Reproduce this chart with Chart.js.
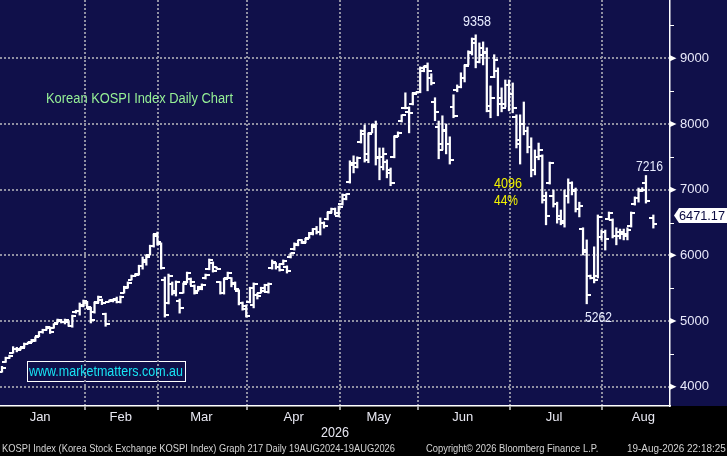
<!DOCTYPE html>
<html><head><meta charset="utf-8">
<script src="https://cdn.jsdelivr.net/npm/chart.js@4.4.1/dist/chart.umd.min.js"></script>
<style>
html,body{margin:0;padding:0;background:#000;}
#wrap{position:relative;width:727px;height:456px;overflow:hidden;background:#000;}
#bg{position:absolute;left:0;top:0;width:727px;height:406px;background:#10104a;}
#c{position:absolute;left:0;top:0;}
.t{position:absolute;white-space:nowrap;font-family:"Liberation Sans",Arial,sans-serif;transform-origin:0 50%;line-height:1;}
#webbox{position:absolute;left:27px;top:361px;width:157px;height:19px;border:1px solid #ffffff;}
#pbox{position:absolute;left:674px;top:208px;width:53px;height:15px;background:#ffffff;clip-path:polygon(0 50%,5px 0,100% 0,100% 100%,5px 100%);}
</style></head><body>
<div id="wrap">
<div id="bg"></div>
<div id="webbox"></div>
<div id="pbox"></div>
<canvas id="c" width="727" height="456"></canvas>
<div class="t" id="title" style="font-size:14px;color:#96f096;">Korean KOSPI Index Daily Chart</div>
<div class="t" id="web" style="font-size:14px;color:#18e4f4;">www.marketmatters.com.au</div>
<div class="t" id="a1" style="font-size:15px;color:#e8ecff;">9358</div>
<div class="t" id="a2" style="font-size:15px;color:#e8ecff;">7216</div>
<div class="t" id="a3" style="font-size:15px;color:#e8ecff;">5262</div>
<div class="t" id="a4" style="font-size:15px;color:#f2f200;">4096</div>
<div class="t" id="a5" style="font-size:15px;color:#f2f200;">44%</div>
<div class="t" id="yr" style="font-size:14px;color:#e6e6f0;">2026</div>
<div class="t" id="f1" style="font-size:11px;color:#d4d4d4;">KOSPI Index (Korea Stock Exchange KOSPI Index) Graph 217 Daily 19AUG2024-19AUG2026</div>
<div class="t" id="f2" style="font-size:11px;color:#d4d4d4;">Copyright© 2026 Bloomberg Finance L.P.</div>
<div class="t" id="f3" style="font-size:11px;color:#d4d4d4;">19-Aug-2026 22:18:25</div>
<div class="t" id="plab" style="font-size:13px;color:#0a0a40;">6471.17</div>
</div>
<script>
// ---- data (trading-day index = position in arrays) ----
const months = ["Jan","Feb","Mar","Apr","May","Jun","Jul","Aug"];
const monthStart = [22.3, 42.1, 66.3, 91.4, 112.3, 137.2, 162.1];
const monthLabelAt = [10.3, 32.1, 53.9, 78.8, 101.8, 124.5, 149.2, 173.3];
const yTicks = [4000, 5000, 6000, 7000, 8000, 9000];
const yMinor = [4500, 5500, 6500, 7500, 8500, 9500];

const opens = [4230,4380,4440,4520,4580,4570,4600,4655,4675,4700,4770,4830,4870,4890,4900,4975,5000,4980,4985,4920,5130,5150,5230,
5280,5190,5130,5290,5320,5100,5295,5300,5340,5285,5430,5510,5630,5690,5710,5840,5900,6010,6140,6320,
6180,5620,5280,5560,5420,5300,5430,5590,5640,5540,5460,5480,5650,5790,5890,5815,5590,5430,5660,5650,5580,5460,5280,5230,
5290,5250,5400,5430,5450,5440,5800,5880,5830,5870,5830,5970,6090,6150,6230,6200,6270,6330,6400,6360,6500,6550,6660,6700,6600,
6780,6860,7110,7380,7350,7720,7900,7450,7870,7960,7480,7350,7420,7300,7490,7810,8040,8240,8180,8300,8475,
8480,8800,8880,8700,8340,7960,7700,7900,7700,8260,8520,8560,8700,8900,9080,9290,8950,9150,9100,8200,8720,8800,8400,8300,8600,
8450,8100,7700,8000,7900,7650,7300,7500,7520,6850,7100,6900,6780,6600,6500,6900,7100,7000,6700,6400,6080,5690,5650,5680,6280,
6350,6560,6540,6300,6300,6320,6300,6440,6780,6880,6980,7100,null,6570];
const highs = [4310,4450,4480,4610,4600,4600,4665,4680,4720,4760,4840,4875,4920,4910,4960,5030,5020,5030,4990,5090,5165,5275,5320,
5300,5210,5290,5380,5335,5120,5320,5335,5365,5380,5530,5595,5700,5720,5850,5975,6000,6155,6325,6355,
6190,5670,5715,5595,5610,5335,5580,5745,5655,5550,5530,5565,5715,5945,5900,5820,5600,5655,5745,5660,5595,5475,5290,5245,
5515,5580,5425,5515,5560,5580,5930,5890,5870,5930,5840,6035,6190,6235,6240,6260,6350,6410,6440,6570,6510,6660,6720,6720,6750,
6935,6935,7440,7515,7500,7910,7985,7865,8000,8045,7635,7635,7455,7330,7820,7880,8140,8475,8260,8475,8490,
8870,8885,8930,8765,8400,8045,8125,8000,7805,8445,8595,8780,8900,9115,9310,9358,9235,9250,9160,8580,9055,8855,8550,8670,8670,
8625,8140,8140,8335,7955,7790,7605,7710,7530,6965,7420,6995,6810,6690,6995,7165,7120,7025,6810,6420,6235,5700,6130,6615,6385,
6385,6660,6555,6420,6400,6400,6420,6660,6890,7025,7030,7216,null,6615];
const lows = [4220,4370,4430,4510,4530,4560,4600,4650,4670,4690,4760,4815,4860,4810,4890,4970,4970,4955,4920,4905,5120,5090,5215,
5190,4970,5120,5275,5250,4920,5290,5290,5275,5275,5425,5500,5625,5680,5700,5790,5850,6005,6125,6155,
5790,5060,5260,5395,5380,5120,5425,5580,5550,5410,5455,5475,5640,5780,5745,5790,5410,5410,5655,5520,5475,5245,5165,5060,
5275,5200,5335,5425,5440,5425,5790,5790,5760,5855,5730,5960,6080,6145,6180,6190,6260,6310,6325,6310,6415,6540,6645,6615,6585,
6765,6845,7100,7255,7330,7710,7420,7410,7865,7375,7150,7300,7180,7060,7485,7805,8030,8230,7865,8290,8470,
8475,8795,8505,8595,8050,7470,7605,7545,7390,8095,8490,8550,8640,8900,9050,8855,8930,8900,8185,8095,8705,8125,8185,8260,8200,
8170,7635,7390,7835,7560,7195,7225,7455,6795,6465,7085,6735,6490,6465,6430,6795,6920,6660,6585,6005,5262,5640,5580,5655,6235,
6080,6540,6265,6160,6250,6235,6235,6430,6765,6810,6970,6795,null,6415];
const closes = [4290,4440,4470,4580,4560,4590,4650,4670,4710,4750,4830,4860,4910,4830,4950,5020,4985,5010,4930,5080,5160,5240,5300,
5210,5010,5270,5360,5270,4960,5315,5320,5290,5370,5520,5580,5690,5705,5840,5930,5980,6140,6300,6200,
5810,5090,5680,5450,5600,5200,5570,5730,5590,5430,5520,5555,5700,5930,5760,5795,5430,5640,5735,5560,5490,5280,5180,5070,
5500,5560,5380,5505,5550,5570,5900,5820,5780,5920,5760,6030,6180,6230,6190,6250,6340,6400,6350,6500,6440,6650,6700,6640,6740,
6920,6930,7400,7400,7480,7850,7550,7850,7980,7500,7500,7550,7250,7100,7800,7870,8130,8250,8170,8460,8480,
8850,8870,8800,8630,8190,7600,7910,7700,7450,8125,8570,8700,8880,9100,9230,8950,9050,9080,8280,8400,8980,8300,8250,8600,8450,
8250,7750,8000,7900,7650,7300,7500,7600,6900,6600,7400,6780,6560,6520,6900,7100,6980,6700,6750,6050,5400,5650,5620,6580,6350,
6250,6650,6300,6350,6350,6330,6380,6650,6880,6990,7000,6830,null,6471.17];

const xMin = -0.54, xMax = 180.5, yMin = 3706, yMax = 9888;

// ---- build datasets ----
const rangeData = [], openData = [], closeData = [];
highs.forEach((h, i) => {
  if (h === null) return;
  rangeData.push({x: i, y: [lows[i], highs[i]]});
  openData.push({x: i, y: opens[i]});
  closeData.push({x: i, y: closes[i]});
});
function tickImg(side) {
  const c = document.createElement('canvas'); c.width = 8; c.height = 2;
  const g = c.getContext('2d'); g.fillStyle = '#ffffff';
  if (side === 'L') g.fillRect(0, 0, 4, 2); else g.fillRect(4, 0, 4, 2);
  return c;
}
const gridCol = '#9090a2';
const fontFam = '"Liberation Sans", Arial, sans-serif';

const axisMarks = {
  id: 'axisMarks',
  afterDraw(chart) {
    const y = chart.scales.y, ctx = chart.ctx, x0 = y.left;
    ctx.save();
    ctx.fillStyle = '#ffffff'; ctx.strokeStyle = '#ffffff'; ctx.lineWidth = 1;
    yTicks.forEach(v => {
      const py = y.getPixelForValue(v);
      ctx.beginPath(); ctx.moveTo(x0, py - 3); ctx.lineTo(x0 + 6.5, py); ctx.lineTo(x0, py + 3); ctx.closePath(); ctx.fill();
    });
    yMinor.forEach(v => {
      const py = Math.round(y.getPixelForValue(v)) + 0.5;
      ctx.beginPath(); ctx.moveTo(x0, py); ctx.lineTo(x0 + 4, py); ctx.stroke();
    });
    ctx.restore();
  }
};

new Chart(document.getElementById('c'), {
  type: 'bar',
  data: {
    datasets: [
      {type: 'bar', data: rangeData, backgroundColor: '#ffffff', borderWidth: 0, barThickness: 1.6, order: 2},
      {type: 'scatter', data: openData, pointStyle: tickImg('L'), pointRadius: 2, order: 1},
      {type: 'scatter', data: closeData, pointStyle: tickImg('R'), pointRadius: 2, order: 1}
    ]
  },
  options: {
    responsive: false, animation: false, events: [],
    layout: {padding: 0, autoPadding: false},
    plugins: {legend: {display: false}, tooltip: {enabled: false}, title: {display: false}},
    scales: {
      x: {
        type: 'linear', min: xMin, max: xMax, offset: false,
        afterBuildTicks: s => {
          s.ticks = monthStart.concat(monthLabelAt).sort((a, b) => a - b).map(v => ({value: v}));
        },
        ticks: {
          autoSkip: false, maxRotation: 0, minRotation: 0, padding: 0, color: '#e8e8f2',
          font: {family: fontFam, size: 13},
          callback: v => { const k = monthLabelAt.indexOf(v); return k >= 0 ? months[k] : ''; }
        },
        grid: {
          offset: false,
          color: c => (c.tick && monthStart.includes(c.tick.value)) ? gridCol : 'rgba(0,0,0,0)',
          lineWidth: 2, tickLength: 4,
          tickColor: c => (c.tick && monthStart.includes(c.tick.value)) ? '#ffffff' : 'rgba(0,0,0,0)',
          tickWidth: 1.2, tickBorderDash: []
        },
        border: {display: true, color: '#ffffff', width: 1.5, dash: [2, 2]},
        afterFit: s => { s.height = 50; s.paddingLeft = 0; s.paddingRight = 0; s.paddingTop = 0; s.paddingBottom = 0; }
      },
      y: {
        position: 'right', min: yMin, max: yMax,
        afterBuildTicks: s => { s.ticks = yTicks.map(v => ({value: v})); },
        ticks: {color: '#e8e8fa', padding: 10, font: {family: fontFam, size: 13}, callback: v => String(v)},
        grid: {color: gridCol, lineWidth: 2, drawTicks: false},
        border: {display: true, color: '#ffffff', width: 1.5, dash: [2, 2]},
        afterFit: s => { s.width = 57; s.paddingTop = 0; s.paddingBottom = 0; s.paddingLeft = 0; s.paddingRight = 0; }
      }
    }
  },
  plugins: [axisMarks]
});

// ---- place overlay texts ----
function place(id, left, right, cy) {
  const el = document.getElementById(id);
  const w = el.getBoundingClientRect().width;
  const fs = parseFloat(getComputedStyle(el).fontSize);
  el.style.left = left + 'px';
  el.style.top = (cy - fs / 2) + 'px';
  el.style.transform = 'scaleX(' + ((right - left) / w) + ')';
}
place('title', 46, 233, 97.5);
place('web', 29, 183, 371);
place('a1', 463, 491, 20.5);
place('a2', 636, 663, 165);
place('a3', 585, 612, 316.5);
place('a4', 494, 522, 182.5);
place('a5', 494, 518, 199);
place('yr', 321, 349, 431.7);
place('f1', 2, 395, 448.3);
place('f2', 425.6, 598, 448.3);
place('f3', 626.8, 725.5, 448.3);
place('plab', 679, 725, 215.5);
</script>
</body></html>
